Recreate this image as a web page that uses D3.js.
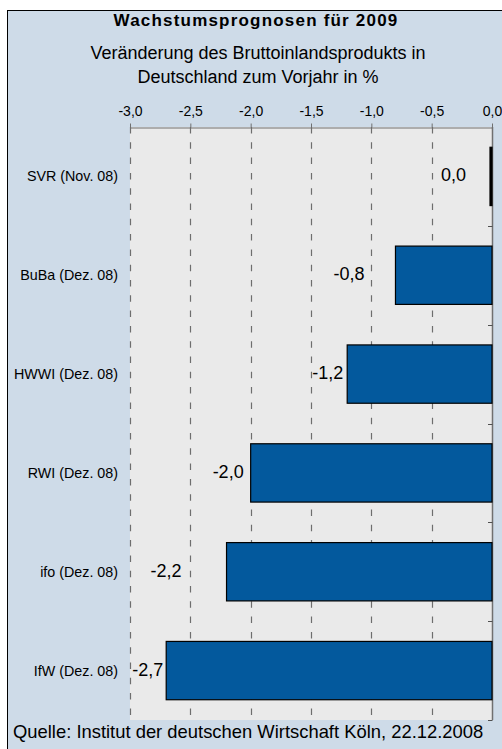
<!DOCTYPE html>
<html>
<head>
<meta charset="utf-8">
<script src="https://cdn.jsdelivr.net/npm/d3@7/dist/d3.min.js"></script>
<style>
  html, body { margin: 0; padding: 0; background: #ffffff; }
  svg { display: block; font-family: "Liberation Sans", Arial, sans-serif; }
</style>
</head>
<body>
<svg id="chart" width="502" height="749"></svg>
<script>
// ---- data ----
const categories = ["SVR (Nov. 08)", "BuBa (Dez. 08)", "HWWI (Dez. 08)", "RWI (Dez. 08)", "ifo (Dez. 08)", "IfW (Dez. 08)"];
const values = [0.0, -0.8, -1.2, -2.0, -2.2, -2.7];
const tickValues = [-3.0, -2.5, -2.0, -1.5, -1.0, -0.5, 0.0];
const titleText = "Wachstumsprognosen für 2009";
const subtitleLines = ["Veränderung des Bruttoinlandsprodukts in", "Deutschland zum Vorjahr in %"];
const sourceText = "Quelle: Institut der deutschen Wirtschaft Köln, 22.12.2008";

// ---- layout (label gaps between label and bar end, px) ----
const labelGap = [26, 31, 4, 7, 45, 3];

const fmt = v => d3.format(".1f")(v).replace(".", ",").replace("−", "-");

const svg = d3.select("#chart");
const plot = { left: 130, right: 492, top: 127, bottom: 720 };

// outer frame
svg.append("rect")
  .attr("x", 7.5).attr("y", 10.5)
  .attr("width", 500).attr("height", 745)
  .attr("fill", "#cedbe8")
  .attr("stroke", "#000").attr("stroke-width", 1);

// title
svg.append("text")
  .attr("x", 256).attr("y", 26)
  .attr("text-anchor", "middle")
  .attr("font-size", 17).attr("font-weight", "bold")
  .attr("letter-spacing", 1.2)
  .attr("fill", "#000")
  .text(titleText);

svg.selectAll("text.sub").data(subtitleLines).enter().append("text")
  .attr("class", "sub")
  .attr("x", 258).attr("y", (d, i) => 59 + i * 24)
  .attr("text-anchor", "middle")
  .attr("font-size", 18)
  .attr("fill", "#000")
  .text(d => d);

// scales
const x = d3.scaleLinear().domain([-3, 0]).range([plot.left, plot.right]);
const y = d3.scaleBand().domain(categories).range([plot.top, plot.bottom])
  .paddingInner(0.41).paddingOuter(0.205);

// plot background
svg.append("rect")
  .attr("x", plot.left).attr("y", plot.top)
  .attr("width", plot.right - plot.left).attr("height", plot.bottom - plot.top)
  .attr("fill", "#eaeaea");

// dashed gridlines
svg.selectAll("line.grid").data(tickValues.filter(t => t !== 0)).enter().append("line")
  .attr("class", "grid")
  .attr("x1", d => Math.round(x(d)) + 0.5).attr("x2", d => Math.round(x(d)) + 0.5)
  .attr("y1", plot.top).attr("y2", plot.bottom)
  .attr("stroke", "#6e6e6e").attr("stroke-width", 1.2)
  .attr("stroke-dasharray", "6.5,8.8");

// top axis
const xAxis = d3.axisTop(x).tickValues(tickValues).tickSize(4).tickSizeOuter(0).tickFormat(fmt);
const gx = svg.append("g").attr("transform", `translate(0,${plot.top + 0.5})`).call(xAxis);
gx.select(".domain").attr("stroke", "#707070");
gx.selectAll(".tick line").attr("stroke", "#707070");
gx.selectAll(".tick text")
  .attr("font-family", "Liberation Sans, Arial, sans-serif")
  .attr("font-size", 14).attr("fill", "#000")
  .attr("y", -12);

// right axis (value 0) with category boundary ticks
svg.append("line")
  .attr("x1", plot.right + 0.5).attr("x2", plot.right + 0.5)
  .attr("y1", plot.top).attr("y2", plot.bottom)
  .attr("stroke", "#707070").attr("stroke-width", 1.5);
const bounds = categories.map((c, i) => plot.top + y.step() * (i + 1));
svg.selectAll("line.ctick").data(bounds).enter().append("line")
  .attr("class", "ctick")
  .attr("x1", plot.right - 4).attr("x2", plot.right + 0.5)
  .attr("y1", d => Math.round(d) + 0.5).attr("y2", d => Math.round(d) + 0.5)
  .attr("stroke", "#505050").attr("stroke-width", 1);

// bars
svg.selectAll("rect.bar").data(values).enter().append("rect")
  .attr("class", "bar")
  .attr("x", d => Math.min(x(d), x(0) - 2))
  .attr("y", (d, i) => y(categories[i]))
  .attr("width", d => Math.max(x(0) - x(d), 2))
  .attr("height", y.bandwidth())
  .attr("fill", d => d === 0 ? "#000" : "#03599d")
  .attr("stroke", "#000").attr("stroke-width", 1.2);

// value labels
svg.selectAll("text.val").data(values).enter().append("text")
  .attr("class", "val")
  .attr("x", (d, i) => x(d) - labelGap[i])
  .attr("y", (d, i) => y(categories[i]) + y.bandwidth() / 2 + 5)
  .attr("text-anchor", "end")
  .attr("font-size", 18).attr("fill", "#000")
  .text(d => fmt(d));

// category labels
svg.selectAll("text.cat").data(categories).enter().append("text")
  .attr("class", "cat")
  .attr("x", 118)
  .attr("y", d => y(d) + y.bandwidth() / 2 + 5)
  .attr("text-anchor", "end")
  .attr("font-size", 14.3).attr("fill", "#000")
  .text(d => d);

// source
svg.append("text")
  .attr("x", 13).attr("y", 738)
  .attr("font-size", 18.4).attr("fill", "#000")
  .text(sourceText);
</script>
</body>
</html>
